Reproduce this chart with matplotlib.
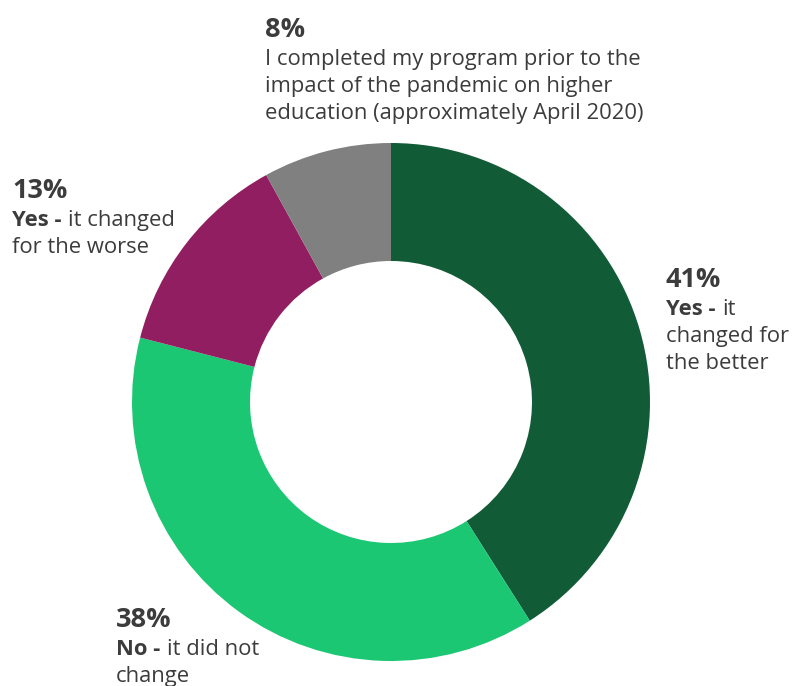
import matplotlib.pyplot as plt

# data
labels = ["Yes - it changed for the better", "No - it did not change",
          "Yes - it changed for the worse", "I completed my program prior"]
values = [41, 38, 13, 8]
colors = ["#115c36", "#1bc773", "#921e62", "#808080"]

# annotation text: (pct, [(bold, regular), ...lines], x, baseline of pct) in pixels
annotations = [
    ("41%", [("Yes - ", "it"), ("", "changed for"), ("", "the better")], 666, 287),
    ("38%", [("No - ", "it did not"), ("", "change")], 116, 627),
    ("13%", [("Yes - ", "it changed"), ("", "for the worse")], 12, 198),
    ("8%", [("", "I completed my program prior to the"),
            ("", "impact of the pandemic on higher"),
            ("", "education (approximately April 2020)")], 265, 37),
]

W, H = 792, 686
TXT = "#3c3c3c"
plt.rcParams['font.family'] = ['Open Sans', 'DejaVu Sans']

fig = plt.figure(figsize=(W / 100, H / 100), dpi=100)
ax = fig.add_axes([0, 0, 1, 1])

cx, cy, r = 391, H - 402, 259
ax.pie(values, colors=colors, startangle=90, counterclock=False,
       center=(cx, cy), radius=r,
       wedgeprops=dict(width=r - 141, linewidth=0))
ax.set_xlim(0, W)
ax.set_ylim(0, H)
ax.set_aspect('equal')
ax.axis('off')

fig.canvas.draw()
renderer = fig.canvas.get_renderer()

for pct, lines, x, base in annotations:
    ax.text(x, H - base, pct, fontsize=19.5, fontweight='bold', color=TXT,
            va='baseline', ha='left')
    y = base + 28
    for bold, reg in lines:
        xx = x
        if bold:
            t = ax.text(xx, H - y, bold, fontsize=15.8, fontweight='bold',
                        color=TXT, va='baseline', ha='left')
            bb = t.get_window_extent(renderer)
            # convert display to data
            xx = ax.transData.inverted().transform((bb.x1 + 1, 0))[0]
        ax.text(xx, H - y, reg, fontsize=15.8, color=TXT,
                va='baseline', ha='left')
        y += 27

fig.savefig("out.png", dpi=100)
